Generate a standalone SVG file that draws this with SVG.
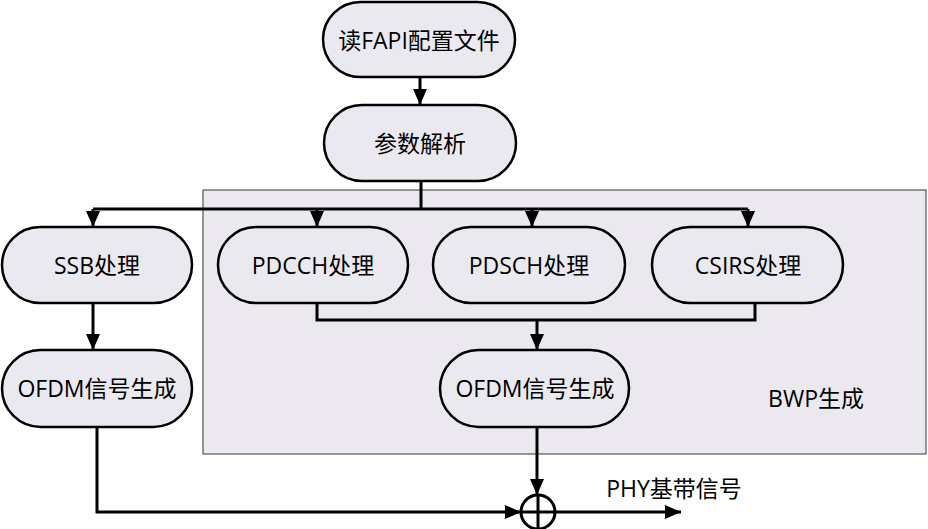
<svg xmlns="http://www.w3.org/2000/svg" width="928" height="529" viewBox="0 0 928 529">
<style>
.node{fill:#ebe9f0;stroke:#000;stroke-width:2.5}
.lbl{font-family:"Open Sans","Noto Sans CJK SC",sans-serif;font-size:23px;fill:#000;text-anchor:middle;dominant-baseline:central}
.ln{fill:none;stroke:#000;stroke-width:3}
</style>
<defs>
<marker id="ah" markerUnits="userSpaceOnUse" markerWidth="16" markerHeight="14" viewBox="0 0 16 14" refX="16" refY="7" orient="auto">
<path d="M0,0 L16,7 L0,14 Z" fill="#000"/>
</marker>
</defs>
<rect id="bwp" x="203" y="190" width="723" height="264" fill="#ebe9ef" stroke="#555" stroke-width="1.2"/>
<text class="lbl" x="816" y="398">BWP生成</text>
<g id="connectors">
<path class="ln" d="M420,77 V105" marker-end="url(#ah)"/>
<path class="ln" d="M421,181 V209"/>
<path class="ln" d="M93,209 H748"/>
<path class="ln" d="M93,209 V227" marker-end="url(#ah)"/>
<path class="ln" d="M317,209 V227" marker-end="url(#ah)"/>
<path class="ln" d="M532,209 V227" marker-end="url(#ah)"/>
<path class="ln" d="M748,209 V227" marker-end="url(#ah)"/>
<path class="ln" d="M93,303 V350" marker-end="url(#ah)"/>
<path class="ln" d="M317,303 V320 H755 V303"/>
<path class="ln" d="M537,320 V350" marker-end="url(#ah)"/>
<path class="ln" d="M97,427 V512 H521" marker-end="url(#ah)"/>
<path class="ln" d="M537,427 V495" marker-end="url(#ah)"/>
<path class="ln" d="M555,512 H681" marker-end="url(#ah)"/>
</g>
<g id="sum">
<circle cx="538" cy="512" r="17" fill="#fff" stroke="#000" stroke-width="3"/>
<path class="ln" d="M521,512 H555 M538,495 V529"/>
</g>
<text class="lbl" x="674" y="488">PHY基带信号</text>
<g id="n_read"><rect class="node" x="323" y="2" width="192" height="75" rx="37.5"/><text class="lbl" x="419" y="40">读FAPI配置文件</text></g>
<g id="n_parse"><rect class="node" x="324" y="105" width="192" height="76" rx="38"/><text class="lbl" x="420" y="143">参数解析</text></g>
<g id="n_ssb"><rect class="node" x="2" y="227" width="190" height="76" rx="38"/><text class="lbl" x="97" y="265">SSB处理</text></g>
<g id="n_pdcch"><rect class="node" x="218" y="227" width="190" height="76" rx="38"/><text class="lbl" x="313" y="265">PDCCH处理</text></g>
<g id="n_pdsch"><rect class="node" x="433" y="227" width="192" height="76" rx="38"/><text class="lbl" x="529" y="265">PDSCH处理</text></g>
<g id="n_csirs"><rect class="node" x="652" y="227" width="191" height="76" rx="38"/><text class="lbl" x="748" y="265">CSIRS处理</text></g>
<g id="n_ofdm1"><rect class="node" x="2" y="350" width="190" height="77" rx="38.5"/><text class="lbl" x="97" y="388">OFDM信号生成</text></g>
<g id="n_ofdm2"><rect class="node" x="440" y="350" width="189" height="77" rx="38.5"/><text class="lbl" x="535" y="388">OFDM信号生成</text></g>
</svg>
